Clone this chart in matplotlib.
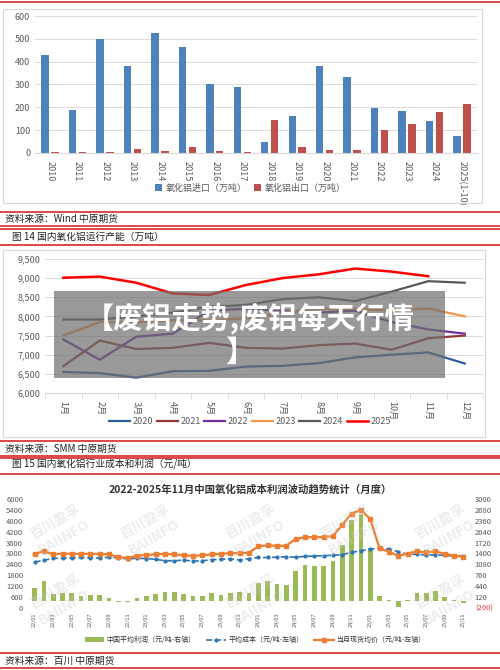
import matplotlib
matplotlib.use("Agg")
import matplotlib.pyplot as plt
import numpy as np
from matplotlib.patches import Rectangle
from matplotlib.lines import Line2D

plt.rcParams['font.family'] = ['Noto Sans CJK SC', 'DejaVu Sans']

# ---- chart 1 data
years1 = ['2010','2011','2012','2013','2014','2015','2016','2017','2018','2019','2020','2021','2022','2023','2024','2025(1-10)']
imports = [430,188,500,382,527,465,302,287,50,163,380,332,198,183,141,73]
exports = [5,5,3,18,10,28,10,5,146,26,15,12,100,125,178,216]

# ---- chart 2 data
months2 = ['1月','2月','3月','4月','5月','6月','7月','8月','9月','10月','11月','12月']
cap2020 = [6550,6520,6400,6570,6580,6690,6710,6780,6930,7000,7060,6770]
cap2021 = [6700,7370,7150,7180,7310,7180,7160,7250,7290,7130,7430,7500]
cap2022 = [7400,6870,7470,7550,8150,8200,8150,8100,8150,7850,7660,7550]
cap2023 = [7500,7850,7850,7900,7900,7950,8100,8200,8200,8150,8210,8000]
cap2024 = [7920,7920,8000,8100,8250,8300,8450,8500,8400,8650,8920,8880]
cap2025 = [9010,9040,8880,8600,8560,8820,9000,9100,9250,9170,9050]

# ---- chart 3 data
months3 = [f'{y}/{m:02d}' for y in (22,23,24) for m in range(1,13)] + [f'25/{m:02d}' for m in range(1,12)]
profit = [376,600,216,227,227,147,173,184,83,-24,-24,83,
          147,216,264,264,216,147,147,227,184,227,280,237,
          520,584,493,477,893,1053,1027,1027,1187,1640,2387,2547,
          1533,147,40,-180,40,253,227,296,120,24,-40]
cost = [2530,2620,2740,2740,2760,2780,2760,2740,2800,2760,2700,2740,
        2720,2680,2600,2600,2640,2580,2600,2660,2680,2700,2640,2720,
        2780,2780,2800,2820,2800,2840,2860,2880,2900,2940,3060,3150,
        3250,3280,3250,3100,2950,2960,2920,2920,2900,2860,2880]
price = [2950,3150,2950,3000,2980,2980,2980,2980,2950,2800,2760,2880,
         2920,2960,2970,2950,2900,2870,2900,2950,2990,3010,3020,3040,
         3400,3450,3420,3430,3800,3900,3900,3900,3960,4580,5200,5400,
         4900,3280,3100,2870,3000,3120,3060,3120,2980,2880,2830]

W, H = 500, 670
fig = plt.figure(figsize=(W/100, H/100), dpi=100)

def rect(x0, y0, x1, y1):
    return [x0/W, 1-y1/H, (x1-x0)/W, (y1-y0)/H]

def fy(y):
    return 1-y/H

RED = '#d42a2a'
def hline(y, lw=1.2):
    fig.add_artist(Line2D([0, 1], [fy(y), fy(y)], color=RED, lw=lw))

def box(x0, y0, x1, y1):
    fig.add_artist(Rectangle((x0/W, fy(y1)), (x1-x0)/W, (y1-y0)/H, fill=False, ec='#d9d9d9', lw=0.8))

GRID = '#d9d9d9'
TXT = '#595959'

hline(1.5)

# ===== chart 1
box(3, 9, 482, 203)
ax1 = fig.add_axes(rect(35, 16, 477, 153))
x = np.arange(len(years1))
ax1.bar(x-0.18, imports, 0.27, color='#4f81bd', label='氧化铝进口（万吨）')
ax1.bar(x+0.18, exports, 0.27, color='#c0504d', label='氧化铝出口（万吨）')
ax1.set_ylim(0, 600)
ax1.set_yticks(range(0, 601, 100))
ax1.set_xlim(-0.55, len(years1)-0.45)
ax1.set_xticks(x)
ax1.set_xticklabels(years1, rotation=-90, fontsize=6.5, color=TXT)
ax1.tick_params(axis='y', labelsize=6.5, colors=TXT, length=0)
ax1.tick_params(axis='x', length=0, pad=6)
ax1.grid(axis='y', color=GRID, lw=0.7)
ax1.set_axisbelow(True)
for s in ['top', 'right', 'left']:
    ax1.spines[s].set_visible(False)
ax1.spines['bottom'].set_color(GRID)
h, l = ax1.get_legend_handles_labels()
fig.legend(h, l, loc='center', bbox_to_anchor=(250/W, fy(188)), fontsize=6.5, frameon=False, ncol=2,
           handlelength=0.8, handleheight=0.8, labelcolor=TXT, columnspacing=0.8, handletextpad=0.4)

hline(212)
fig.text(5/W, fy(219), '资料来源：Wind 中原期货', fontsize=7, va='center', color='#222222')
hline(226); hline(229)
fig.text(12/W, fy(237), '图 14 国内氧化铝运行产能（万吨）', fontsize=7, va='center', color='#222222')
hline(245)

# ===== chart 2
box(3, 250, 485, 437)
ax2 = fig.add_axes(rect(45, 259, 483, 393))
xm = np.arange(12)
series = [('2020', cap2020, '#2e5f9a'), ('2021', cap2021, '#943634'), ('2022', cap2022, '#7030a0'),
          ('2023', cap2023, '#f79646'), ('2024', cap2024, '#595959'), ('2025', cap2025, '#ff0000')]
for name, vals, col in series:
    ax2.plot(np.arange(len(vals)), vals, color=col, lw=1.6 if name != '2025' else 1.8, label=name)
ax2.set_ylim(6000, 9500)
ax2.set_yticks(range(6000, 9501, 500))
ax2.set_yticklabels([f'{v:,}' for v in range(6000, 9501, 500)])
ax2.set_xlim(-0.5, 11.5)
ax2.set_xticks(xm)
ax2.set_xticklabels(months2, rotation=-90, fontsize=6.5, color=TXT)
ax2.set_xticks(np.arange(-0.5, 12, 1), minor=True)
ax2.tick_params(axis='x', which='major', length=0, pad=6)
ax2.tick_params(axis='x', which='minor', length=4, color=GRID)
ax2.tick_params(axis='y', labelsize=6.5, colors=TXT, length=0)
ax2.grid(axis='y', color=GRID, lw=0.7)
for s in ['top', 'right', 'left']:
    ax2.spines[s].set_visible(False)
ax2.spines['bottom'].set_color(GRID)
h, l = ax2.get_legend_handles_labels()
fig.legend(h, l, loc='center', bbox_to_anchor=(250/W, fy(422)), fontsize=6.5, frameon=False, ncol=6,
           handlelength=2.3, labelcolor=TXT, columnspacing=0.4, handletextpad=0.3)

hline(441)
fig.text(5/W, fy(449), '资料来源：SMM 中原期货', fontsize=7, va='center', color='#222222')
hline(456); hline(458)
fig.text(12/W, fy(464), '图 15 国内氧化铝行业成本和利润（元/吨）', fontsize=7, va='center', color='#222222')
hline(474)

# ===== chart 3
fig.text(250/W, fy(489), '2022-2025年11月中国氧化铝成本利润波动趋势统计（月度）', fontsize=7.5,
         fontweight='bold', ha='center', va='center', color='#333333')
ax3 = fig.add_axes(rect(28, 499, 470, 608))
ax3r = ax3.twinx()
n = len(months3)
x3 = np.arange(n)
ax3r.bar(x3, profit, 0.5, color='#9bbb59', label='中国平均利润（元/吨-右轴）', zorder=1)
ax3r.set_ylim(-200, 3000)
ax3r.set_yticks(range(-200, 3001, 320))
ax3r.set_yticklabels(['(200)'] + [str(v) for v in range(120, 3001, 320)])
ax3.set_zorder(ax3r.get_zorder()+1)
ax3.patch.set_visible(False)
ax3.plot(x3, cost, color='#2e75b6', lw=1.2, ls='--', marker='o', ms=2, label='平均成本（元/吨-左轴）')
ax3.plot(x3, price, color='#ed7d31', lw=1.6, marker='s', ms=3, label='当月现货均价（元/吨-左轴）')
ax3.set_ylim(0, 6000)
ax3.set_yticks(range(0, 6001, 600))
ax3.set_xlim(-0.7, n-0.3)
ax3.set_xticks(x3[::2])
ax3.set_xticklabels(months3[::2], rotation=90, fontsize=4, color=TXT)
ax3.tick_params(axis='y', labelsize=5.5, colors=TXT, length=0)
ax3r.tick_params(axis='y', labelsize=5.5, colors=TXT, length=0)
for lab in ax3r.get_yticklabels():
    if lab.get_text() == '(200)':
        lab.set_color('#e04040')
ax3.tick_params(axis='x', length=0)
for a in (ax3, ax3r):
    for s in a.spines.values():
        s.set_visible(False)
for wx, wy in [(60, 530), (150, 530), (255, 530), (350, 530), (445, 530), (60, 600), (255, 600), (445, 600)]:
    fig.text(wx/W, fy(wy), '百川盈孚\nBAIINFO', fontsize=10, rotation=30, color='#cccccc', alpha=0.35,
             ha='center', va='center', fontweight='bold')
h1, l1 = ax3r.get_legend_handles_labels()
h2, l2 = ax3.get_legend_handles_labels()
fig.legend(h1+h2, l1+l2, loc='center', bbox_to_anchor=(255/W, fy(640)), fontsize=5, frameon=False,
           ncol=3, labelcolor='#333333', columnspacing=1.5, handletextpad=0.4, handlelength=2.8)

hline(653)
fig.text(5/W, fy(661), '资料来源：百川 中原期货', fontsize=7, va='center', color='#222222')
hline(668)

# ===== overlay banner
fig.add_artist(Rectangle((54/W, fy(378)), (445-54)/W, (378-291)/H, color='#6e6e6e', alpha=0.7, lw=0, zorder=20))
fig.text(250/W, fy(318), '【废铝走势,废铝每天行情', fontsize=21, fontweight='bold', color='white',
         ha='center', va='center', zorder=21)
fig.text(240/W, fy(352), '】', fontsize=21, fontweight='bold', color='white', ha='center', va='center', zorder=21)

fig.savefig('out.png', dpi=100)
